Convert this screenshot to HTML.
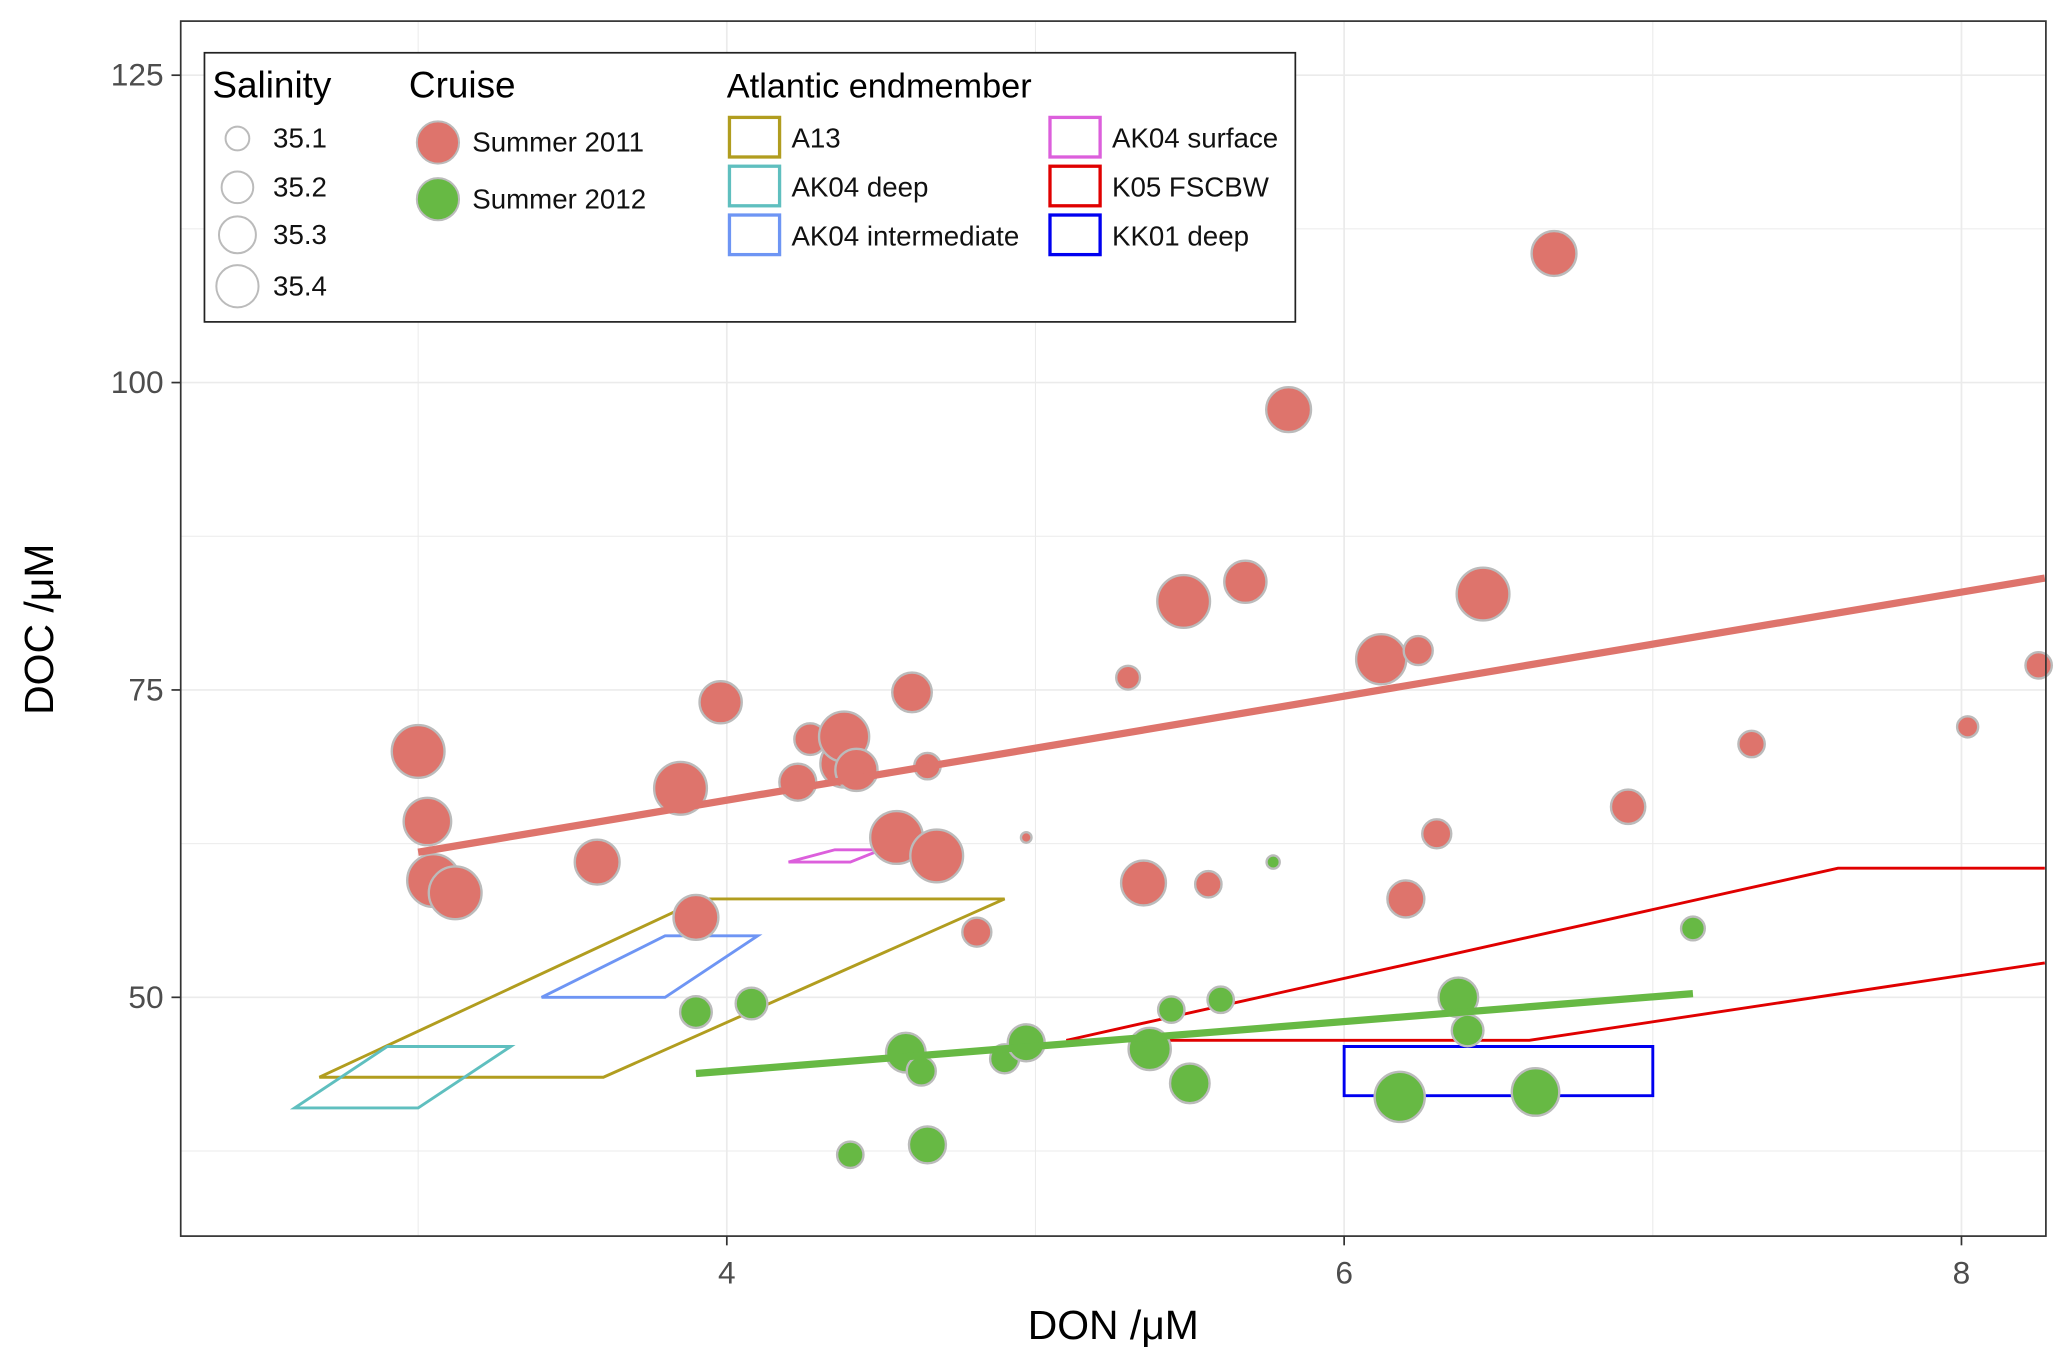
<!DOCTYPE html>
<html><head><meta charset="utf-8"><style>
html,body{margin:0;padding:0;background:#fff}
svg{display:block;font-family:"Liberation Sans",sans-serif}
</style></head><body>
<svg id="chart" width="2067" height="1370" viewBox="0 0 1567 1038.5" preserveAspectRatio="none" xmlns="http://www.w3.org/2000/svg">
<rect x="0" y="0" width="1567" height="1038.5" fill="#fff"/>
<g id="grid"></g>
<g id="polys"></g>
<g id="pts"></g>
<g id="fits"></g>
<rect x="137" y="16" width="1414" height="921" fill="none" stroke="#333" stroke-width="1.3"/>
<g id="axes"></g>
<text x="844" y="1015" font-size="31" text-anchor="middle">DON /μM</text>
<text transform="translate(40,477) rotate(-90)" font-size="31" text-anchor="middle">DOC /μM</text>
<g>
<rect x="155" y="40" width="827" height="204" fill="#fff" stroke="#222" stroke-width="1.3"/>
<text x="161" y="74" font-size="28">Salinity</text>
<text x="310" y="74" font-size="28">Cruise</text>
<text x="551" y="74" font-size="26">Atlantic endmember</text>
<g font-size="21" fill="#111">
<circle cx="180" cy="105" r="9" fill="#fff" stroke="#bbb" stroke-width="1.5"/><text x="207" y="112">35.1</text>
<circle cx="180" cy="142" r="12" fill="#fff" stroke="#bbb" stroke-width="1.5"/><text x="207" y="149">35.2</text>
<circle cx="180" cy="178" r="14" fill="#fff" stroke="#bbb" stroke-width="1.5"/><text x="207" y="185">35.3</text>
<circle cx="180" cy="217" r="16" fill="#fff" stroke="#bbb" stroke-width="1.5"/><text x="207" y="224">35.4</text>
</g>
<g font-size="21" fill="#111">
<circle cx="332" cy="108" r="16" fill="#de746c" stroke="#bbb" stroke-width="1.5"/><text x="358" y="115">Summer 2011</text>
<circle cx="332" cy="151" r="16" fill="#67b944" stroke="#bbb" stroke-width="1.5"/><text x="358" y="158">Summer 2012</text>
</g>
<g font-size="21" fill="#111" stroke-width="2.5">
<rect x="553" y="89" width="38" height="30" fill="none" stroke="#b19d1f"/><text x="600" y="112" stroke="none">A13</text>
<rect x="553" y="126" width="38" height="30" fill="none" stroke="#5fbfbf"/><text x="600" y="149" stroke="none">AK04 deep</text>
<rect x="553" y="163" width="38" height="30" fill="none" stroke="#6e95f4"/><text x="600" y="186" stroke="none">AK04 intermediate</text>
<rect x="796" y="89" width="38" height="30" fill="none" stroke="#dc5fdc"/><text x="843" y="112" stroke="none">AK04 surface</text>
<rect x="796" y="126" width="38" height="30" fill="none" stroke="#e00000"/><text x="843" y="149" stroke="none">K05 FSCBW</text>
<rect x="796" y="163" width="38" height="30" fill="none" stroke="#0000f0"/><text x="843" y="186" stroke="none">KK01 deep</text>
</g>
</g>
</svg>
<script>
const redDON=[3.0,3.03,3.05,3.12,3.58,3.85,3.98,3.9,4.23,4.27,4.38,4.38,4.42,4.6,4.65,4.55,4.68,4.81,4.97,5.3,5.35,5.48,5.56,5.68,5.82,6.12,6.24,6.2,6.3,6.45,6.68,6.92,7.32,8.02,8.25];
const redDOC=[70,64.3,59.5,58.5,61,67,74,56.5,67.5,71,69,71.2,68.5,74.8,68.8,63,61.5,55.3,63,76,59.3,82.2,59.2,83.8,97.8,77.5,78.2,58,63.3,82.8,110.5,65.5,70.6,72,77];
const redR=[20,18,20,20,17,20,16,17,14,12,18,19,16,15,10,20,20,11,4,9,17,20,10,16,17,19,11,14,11,20,17,13,10,8,10];
const grnDON=[5.77,3.9,4.08,4.58,4.63,4.65,4.4,4.9,4.97,5.37,5.5,5.44,5.6,6.18,6.37,6.4,6.62,7.13];
const grnDOC=[61,48.8,49.5,45.5,44,38,37.2,45,46.3,45.8,43,49,49.8,41.9,50,47.3,42.3,55.6];
const grnR=[5,12,12,15,11,14,10,11,14,16,15,10,10,19,15,12,18,9];
const xTicks=[4,6,8];
const yTicks=[50,75,100,125];
const a13=[[2.68,43.5],[3.6,43.5],[4.9,58],[3.92,58]];
const ak04deep=[[2.6,41],[3.0,41],[3.3,46],[2.9,46]];
const ak04int=[[3.4,50],[3.8,50],[4.1,55],[3.8,55]];
const ak04surf=[[4.2,61],[4.4,61],[4.5,62],[4.35,62]];
const k05upper=[[5.1,46.5],[7.6,60.5],[8.27,60.5]];
const k05lower=[[5.1,46.5],[6.6,46.5],[8.27,52.8]];
const kk01=[[6,42],[7,42],[7,46],[6,46]];
const redFit=[[3.0,61.8],[8.27,84.1]];
const grnFit=[[3.9,43.8],[7.13,50.3]];
const X=v=>551+(v-4)*234;
const Y=v=>756-(v-50)*9.32;
const NS="http://www.w3.org/2000/svg";
function mk(tag,parent,attrs){const e=document.createElementNS(NS,tag);for(const k in attrs)e.setAttribute(k,attrs[k]);document.getElementById(parent).appendChild(e);return e;}
[3,4,5,6,7,8].forEach(v=>{const e=mk('line','grid',{x1:X(v),x2:X(v),y1:16,y2:937,stroke:'#ebebeb','stroke-width':v%2?0.8:1.3});

});
[37.5,50,62.5,75,87.5,100,112.5,125].forEach(v=>{const e=mk('line','grid',{x1:137,x2:1551,y1:Y(v),y2:Y(v),stroke:'#ebebeb','stroke-width':v%25?0.8:1.3});

});
xTicks.forEach(v=>{mk('line','axes',{x1:X(v),x2:X(v),y1:937,y2:944,stroke:'#333','stroke-width':1.3});
const t=mk('text','axes',{x:X(v),y:973,'font-size':24,'text-anchor':'middle',fill:'#4d4d4d'});t.textContent=v;

});
yTicks.forEach(v=>{mk('line','axes',{x1:130,x2:137,y1:Y(v),y2:Y(v),stroke:'#333','stroke-width':1.3});
const t=mk('text','axes',{x:124,y:Y(v)+8,'font-size':24,'text-anchor':'end',fill:'#4d4d4d'});t.textContent=v;

});
function poly(pts,col,name,closed){const d=pts.map((p,i)=>(i?'L':'M')+X(p[0])+','+Y(p[1])).join('')+(closed?'Z':'');
const e=mk('path','polys',{d:d,fill:'none',stroke:col,'stroke-width':2.2});

}
poly(a13,'#b19d1f','a13-polygon',true);
poly(ak04deep,'#5fbfbf','ak04-deep-polygon',true);
poly(ak04int,'#6e95f4','ak04-intermediate-polygon',true);
poly(ak04surf,'#dc5fdc','ak04-surface-polygon',true);
poly(k05upper,'#e00000','k05-upper-line',false);
poly(k05lower,'#e00000','k05-lower-line',false);
poly(kk01,'#0000f0','kk01-deep-rect',true);
function pts(xs,ys,rs,col,name){xs.forEach((x,i)=>{const e=mk('circle','pts',{cx:X(x),cy:Y(ys[i]),r:rs[i],fill:col,stroke:'#bbb','stroke-width':1.8});

});}
pts(redDON,redDOC,redR,'#de746c','point-summer-2011');
pts(grnDON,grnDOC,grnR,'#67b944','point-summer-2012');
function fit(p,col,name){const e=mk('line','fits',{x1:X(p[0][0]),y1:Y(p[0][1]),x2:X(p[1][0]),y2:Y(p[1][1]),stroke:col,'stroke-width':5.5});

}
fit(redFit,'#de746c','fit-line-2011');
fit(grnFit,'#67b944','fit-line-2012');
</script>
</body></html>
